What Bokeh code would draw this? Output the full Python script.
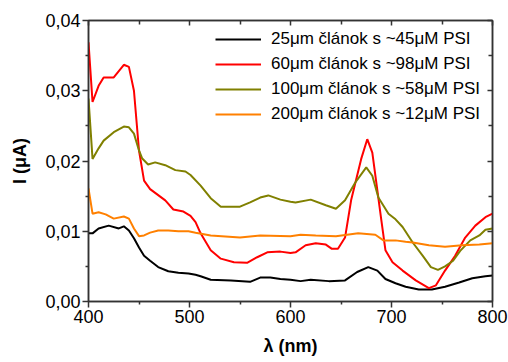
from bokeh.plotting import figure
from bokeh.models import (LinearAxis, FixedTicker, CustomJSTickFormatter, Range1d,
                          Legend, LegendItem)
from bokeh.embed import file_html
from bokeh.resources import INLINE

# ---------------- data ----------------
x_black = [400, 404, 410, 420, 430, 435, 440, 445, 450, 455, 461, 469, 479, 489, 499, 506, 511, 521,
           541, 560, 570, 580, 590, 600, 610, 620, 638, 654, 666, 677, 686, 694, 704, 714, 727,
           740, 753, 767, 780, 793, 800]
y_black = [0.0097, 0.0097, 0.0104, 0.0108, 0.0104, 0.0107, 0.0101, 0.0090, 0.0077, 0.0065, 0.0058,
           0.0049, 0.0043, 0.0041, 0.0040, 0.0038, 0.0036, 0.0031, 0.0030, 0.0028, 0.0034, 0.0034,
           0.0032, 0.0031, 0.0029, 0.0031, 0.0029, 0.0030, 0.0042, 0.0049, 0.0044, 0.0032, 0.0026,
           0.0021, 0.0017, 0.0017, 0.0021, 0.0027, 0.0033, 0.0036, 0.0037]

x_red = [400, 404, 410, 415, 425, 435, 440, 445, 450, 455, 461, 476, 484, 494, 501, 506, 511, 521,
         531, 544, 557, 567, 577, 590, 600, 605, 615, 625, 635, 641, 647, 654, 660, 670, 676, 681,
         690, 694, 701, 711, 724, 737, 744, 753, 763, 773, 783, 793, 800]
y_red = [0.0369, 0.0284, 0.0307, 0.0319, 0.0319, 0.0337, 0.0334, 0.0300, 0.0215, 0.0172, 0.0160,
         0.0144, 0.0131, 0.0128, 0.0122, 0.0113, 0.0097, 0.0073, 0.0061, 0.0056, 0.0055, 0.0063,
         0.0070, 0.0071, 0.0069, 0.0070, 0.0080, 0.0083, 0.0081, 0.0075, 0.0075, 0.0091, 0.0144,
         0.0203, 0.0231, 0.0212, 0.0115, 0.0073, 0.0056, 0.0044, 0.0030, 0.0019, 0.0023, 0.0044,
         0.0065, 0.0091, 0.0108, 0.0120, 0.0125]

x_olive = [400, 404, 410, 415, 425, 435, 440, 445, 450, 453, 459, 466, 476, 486, 496, 501, 511, 521,
           531, 541, 550, 560, 570, 578, 590, 600, 605, 620, 635, 645, 654, 664, 675, 681, 687,
           697, 704, 711, 721, 731, 739, 746, 753, 761, 768, 778, 787, 793, 800]
y_olive = [0.0289, 0.0203, 0.0218, 0.0229, 0.0241, 0.0249, 0.0248, 0.0239, 0.0215, 0.0204, 0.0195,
           0.0198, 0.0194, 0.0187, 0.0185, 0.0180, 0.0165, 0.0147, 0.0135, 0.0135, 0.0135, 0.0141,
           0.0148, 0.0151, 0.0145, 0.0142, 0.0141, 0.0145, 0.0137, 0.0132, 0.0144, 0.0169, 0.0191,
           0.0179, 0.0148, 0.0125, 0.0117, 0.0106, 0.0084, 0.0065, 0.0049, 0.0045, 0.0050, 0.0058,
           0.0072, 0.0087, 0.0094, 0.0102, 0.0104]

x_orange = [400, 404, 410, 417, 425, 435, 440, 445, 450, 455, 461, 469, 479, 489, 499, 506, 521, 550,
            570, 600, 610, 625, 645, 667, 684, 692, 704, 714, 721, 737, 753, 770, 787, 800]
y_orange = [0.0161, 0.0125, 0.0127, 0.0124, 0.0118, 0.0121, 0.0118, 0.0104, 0.0093, 0.0094, 0.0098,
            0.0101, 0.0101, 0.0100, 0.0100, 0.0098, 0.0094, 0.0091, 0.0094, 0.0093, 0.0095, 0.0094,
            0.0093, 0.0097, 0.0095, 0.0087, 0.0087, 0.0085, 0.0084, 0.0080, 0.0078, 0.0080, 0.0081,
            0.0083]

labels = ["25\u03bcm článok s ~45\u03bcM PSI", "60\u03bcm článok s ~98\u03bcM PSI",
          "100\u03bcm článok s ~58\u03bcM PSI", "200\u03bcm článok s ~12\u03bcM PSI"]
colors = ["#000000", "#ff0000", "#808000", "#ff8000"]

x_ticks = [400, 500, 600, 700, 800]
x_minor = [450, 550, 650, 750]
y_ticks = [0.0, 0.01, 0.02, 0.03, 0.04]
y_minor = [0.005, 0.015, 0.025, 0.035]

FONT = "Liberation Sans"
AX = "#333333"

p = figure(width=508, height=362, output_backend="svg", toolbar_location=None,
           x_range=Range1d(400, 800), y_range=Range1d(0, 0.04),
           min_border_left=88, min_border_right=16, min_border_top=20, min_border_bottom=61,
           x_axis_label="\u03bb (nm)", y_axis_label="I (\u03bcA)")
p.xgrid.visible = False
p.ygrid.visible = False
p.outline_line_color = AX
p.outline_line_width = 1.5
p.background_fill_color = "white"
p.border_fill_color = "white"

series = [(x_black, y_black), (x_red, y_red), (x_olive, y_olive), (x_orange, y_orange)]
renderers = []
for (xs, ys), c in zip(series, colors):
    r = p.line(xs, ys, line_color=c, line_width=2)
    renderers.append(r)

fmt = CustomJSTickFormatter(code="return tick.toFixed(2).replace('.', ',');")

xa = p.xaxis[0]
xa.ticker = FixedTicker(ticks=x_ticks, minor_ticks=x_minor)
ya = p.yaxis[0]
ya.ticker = FixedTicker(ticks=y_ticks, minor_ticks=y_minor)
ya.formatter = fmt
for ax in (xa, ya):
    ax.axis_line_color = AX
    ax.axis_line_width = 1.5
    ax.major_tick_in = 0
    ax.major_tick_out = 6
    ax.minor_tick_in = 0
    ax.minor_tick_out = 3
    ax.major_tick_line_color = AX
    ax.minor_tick_line_color = AX
    ax.major_tick_line_width = 1.5
    ax.minor_tick_line_width = 1.5
    ax.major_label_text_font = FONT
    ax.major_label_text_font_size = "18px"
    ax.major_label_text_color = "black"
    ax.axis_label_text_font = FONT
    ax.axis_label_text_font_size = "18px"
    ax.axis_label_text_font_style = "bold"
    ax.axis_label_text_color = "black"
xa.major_label_standoff = 2
ya.major_label_standoff = 2
xa.axis_label_standoff = 10
ya.axis_label_standoff = 12

blank = CustomJSTickFormatter(code="return '';")
top = LinearAxis(ticker=FixedTicker(ticks=x_ticks, minor_ticks=x_minor), formatter=blank)
right = LinearAxis(ticker=FixedTicker(ticks=y_ticks, minor_ticks=y_minor), formatter=blank)
for ax in (top, right):
    ax.axis_line_color = AX
    ax.axis_line_width = 1.5
    ax.major_tick_in = 5
    ax.major_tick_out = 0
    ax.minor_tick_in = 4
    ax.minor_tick_out = 0
    ax.major_tick_line_color = AX
    ax.minor_tick_line_color = AX
    ax.major_tick_line_width = 1.5
    ax.minor_tick_line_width = 1.5
    ax.major_label_text_font_size = "0px"
    ax.major_label_standoff = 0
p.add_layout(top, "above")
p.add_layout(right, "right")

legend = Legend(items=[LegendItem(label=l, renderers=[r]) for l, r in zip(labels, renderers)],
                location=(127, 177), orientation="vertical")
legend.border_line_color = None
legend.background_fill_alpha = 0
legend.padding = 0
legend.margin = 0
legend.spacing = 5
legend.glyph_width = 46
legend.glyph_height = 20
legend.label_height = 20
legend.label_standoff = 10
legend.label_text_font = FONT
legend.label_text_font_size = "17px"
legend.label_text_color = "black"
p.add_layout(legend)

open("out.html", "w").write(file_html(p, INLINE))
